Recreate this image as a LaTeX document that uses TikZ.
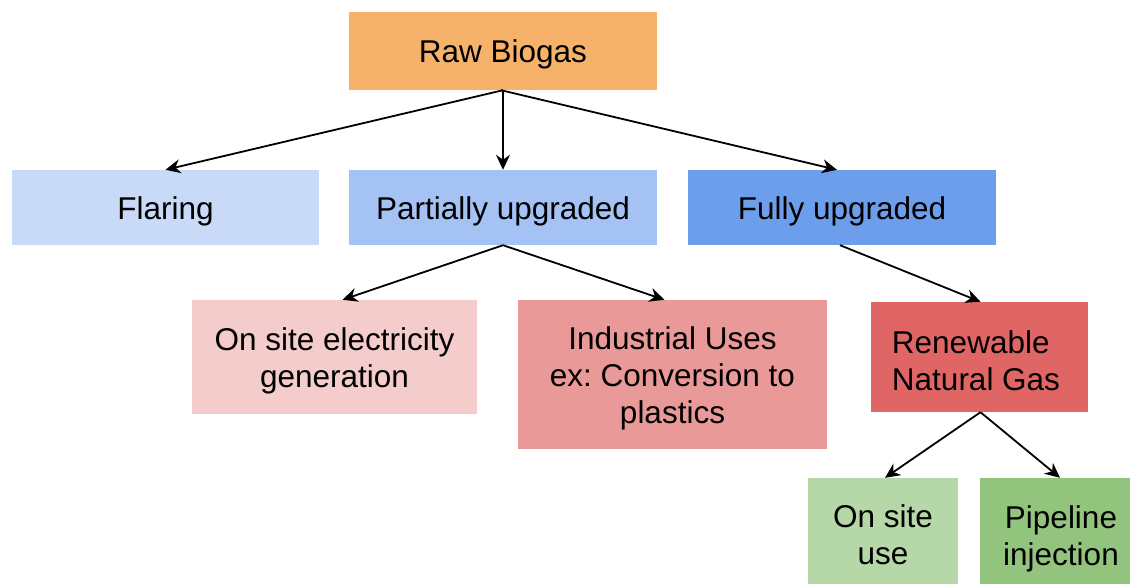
\documentclass[tikz,border=0pt]{standalone}
\usepackage{fontspec}
\setmainfont{Liberation Sans}
\frenchspacing
\usetikzlibrary{arrows.meta}
\definecolor{cRaw}{HTML}{F6B26B}
\definecolor{cFlare}{HTML}{C9DAF8}
\definecolor{cPart}{HTML}{A4C2F4}
\definecolor{cFull}{HTML}{6D9EEB}
\definecolor{cElec}{HTML}{F4CCCC}
\definecolor{cInd}{HTML}{EA9999}
\definecolor{cRng}{HTML}{E06666}
\definecolor{cSite}{HTML}{B6D7A8}
\definecolor{cPipe}{HTML}{93C47D}
\begin{document}
\begin{tikzpicture}[x=1pt,y=-1pt,
  box/.style={draw=none, inner sep=0pt},
  txt/.style={inner sep=0pt, align=center, yshift=-3.5pt,
    font=\fontsize{31.5}{37}\selectfont},
  link/.style={line width=1.8pt, -{Stealth[length=15pt,width=14pt]}}]
\useasboundingbox (0,0) rectangle (1130,584);
% first level
\node[box, fill=cRaw, minimum width=308pt, minimum height=78pt] (raw) at (503,51) {};
% second level
\node[box, fill=cFlare, minimum width=307pt, minimum height=75pt] (flare) at (165.5,207.5) {};
\node[box, fill=cPart, minimum width=308pt, minimum height=75pt] (part) at (503,207.5) {};
\node[box, fill=cFull, minimum width=308pt, minimum height=75pt] (full) at (842,207.5) {};
% third level
\node[box, fill=cElec, minimum width=285pt, minimum height=114pt] (elec) at (334.5,357) {};
\node[box, fill=cInd, minimum width=309pt, minimum height=149pt] (ind) at (672.5,374.5) {};
\node[box, fill=cRng, minimum width=217pt, minimum height=110pt] (rng) at (979.5,357) {};
% fourth level
\node[box, fill=cSite, minimum width=150pt, minimum height=106pt] (site) at (883,531) {};
\node[box, fill=cPipe, minimum width=150pt, minimum height=106pt] (pipe) at (1055,531) {};
% labels
\node[txt] (rawT) at (raw.center) {Raw Biogas};
\node[txt] (flareT) at (flare.center) {Flaring};
\node[txt] (partT) at (part.center) {Partially upgraded};
\node[txt] (fullT) at (full.center) {Fully upgraded};
\node[txt] (elecT) at (elec.center) {On site electricity\\generation};
\node[txt] (indT) at (ind.center) {Industrial Uses\\ex: Conversion to\\plastics};
\node[txt, align=left, xshift=-3.5pt] (rngT) at (rng.center) {Renewable\\Natural Gas};
\node[txt] (siteT) at (site.center) {On site\\use};
\node[txt, xshift=6pt, yshift=-4pt] (pipeT) at (pipe.center) {Pipeline\\injection};
% connectors
\draw[link] (raw.south) -- (flare.north);
\draw[link] (raw.south) -- (part.north);
\draw[link] ([xshift=-2pt]raw.south) -- ([xshift=-5pt]full.north);
\draw[link] (part.south) -- ([xshift=8pt]elec.north);
\draw[link] (part.south) -- ([xshift=-8pt]ind.north);
\draw[link] ([xshift=-2pt]full.south) -- ([xshift=1pt]rng.north);
\draw[link] ([xshift=1pt]rng.south) -- ([xshift=2pt]site.north);
\draw[link] ([xshift=1pt]rng.south) -- ([xshift=5pt]pipe.north);
\end{tikzpicture}
\end{document}
